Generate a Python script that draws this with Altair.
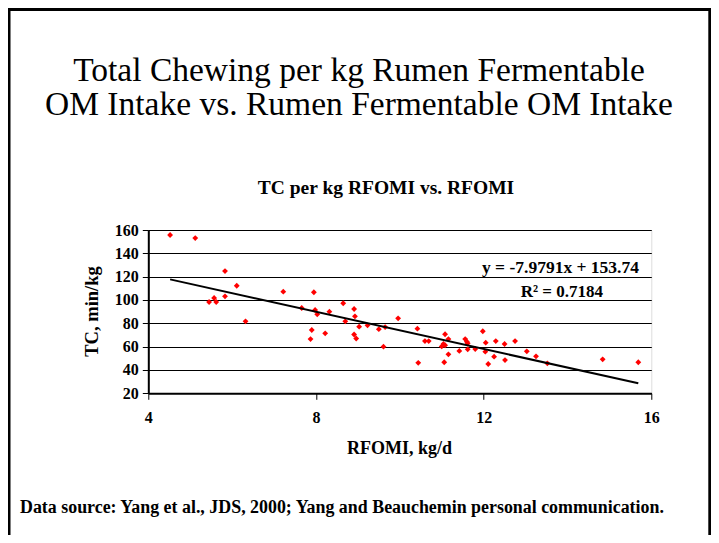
import altair as alt
import pandas as pd

# ---- data ----
rfomi = [4.52, 5.12, 5.83, 6.11, 7.22, 7.95, 5.45, 5.57, 5.62, 5.83,
         7.66, 7.98, 8.03, 8.32, 6.32, 7.90, 8.22, 7.87, 8.65, 8.91,
         8.93, 8.70, 9.03, 9.23, 9.50, 9.65, 8.91, 8.96, 9.61, 9.96,
         10.42, 10.44, 10.60, 10.69, 11.08, 11.16, 11.00, 11.04, 11.08, 11.16,
         11.06, 11.42, 11.56, 11.60, 11.62, 11.62, 11.80, 11.98, 12.05, 12.04,
         12.11, 12.25, 12.29, 12.50, 12.51, 12.75, 13.03, 13.25, 13.52, 14.84,
         15.69]
tc = [155.7, 153.1, 124.8, 112.2, 107.1, 106.6, 98.3, 101.7, 98.3, 103.1,
      93.1, 91.4, 87.7, 90.0, 81.7, 74.3, 71.4, 66.5, 97.2, 92.3,
      86.0, 81.7, 77.1, 78.3, 75.0, 76.8, 70.4, 67.0, 60.0, 84.3,
      75.4, 46.1, 64.8, 64.8, 70.6, 66.5, 60.2, 62.3, 61.2, 53.4,
      46.6, 56.3, 66.5, 64.2, 62.9, 57.7, 58.0, 73.2, 63.4, 55.7,
      45.1, 51.4, 64.8, 62.3, 48.5, 64.8, 56.0, 51.7, 45.7, 49.1,
      46.6]
slope = -7.9791
intercept = 153.74
r2 = 0.7184
x_ticks = [4, 8, 12, 16]
y_ticks = [20, 40, 60, 80, 100, 120, 140, 160]

main_title = ["Total Chewing per kg Rumen Fermentable",
              "OM Intake vs. Rumen Fermentable OM Intake"]
chart_title = "TC per kg RFOMI vs. RFOMI"
x_title = "RFOMI, kg/d"
y_title = "TC, min/kg"
eq_text = f"y = {slope}x + {intercept}"
r2_text = f"R\u00b2 = {r2}"
footer = "Data source: Yang et al., JDS, 2000; Yang and Beauchemin personal communication."

pts = pd.DataFrame({"x": rfomi, "y": tc})
xmin, xmax = min(rfomi), max(rfomi)
trend = pd.DataFrame({"x": [xmin, xmax],
                      "y": [slope * xmin + intercept, slope * xmax + intercept]})
one = pd.DataFrame({"a": [0]})

FONT = "Liberation Serif"
PW, PH = 503, 163.3
PL, PT = 140.3, 222

xs = alt.Scale(domain=[4, 16], nice=False, zero=False)
ys = alt.Scale(domain=[20, 160], nice=False, zero=False)

xaxis = alt.Axis(values=x_ticks, grid=False, title=None, labelFont=FONT,
                 labelFontWeight="bold", labelFontSize=16, labelColor="black",
                 domainColor="black", domainWidth=2, tickColor="black",
                 tickSize=6, tickWidth=1, labelPadding=10, labelFlush=False,
                 labelOverlap=False)
yaxis = alt.Axis(values=y_ticks, grid=True, gridColor="black", gridWidth=1,
                 title=None, labelFont=FONT, labelFontWeight="bold",
                 labelFontSize=16, labelColor="black", domainColor="black",
                 domainWidth=2, tickColor="black", tickSize=6, tickWidth=1,
                 labelPadding=4, labelOverlap=False, labelFlush=False)

points = alt.Chart(pts).mark_point(shape="diamond", filled=True, color="red",
                                    size=34, opacity=1).encode(
    x=alt.X("x:Q", scale=xs, axis=xaxis),
    y=alt.Y("y:Q", scale=ys, axis=yaxis),
)

line = alt.Chart(trend).mark_line(color="black", strokeWidth=2).encode(
    x=alt.X("x:Q", scale=xs, axis=xaxis), y=alt.Y("y:Q", scale=ys, axis=yaxis))


def txt(text, x, y, size, bold=True, align="center", angle=0, baseline="alphabetic"):
    return alt.Chart(one).mark_text(
        text=text, font=FONT, fontSize=size,
        fontWeight="bold" if bold else "normal", align=align,
        baseline=baseline, angle=angle, color="black").encode(
        x=alt.value(x), y=alt.value(y))


texts = [
    txt(main_title[0], 210.7, -149, 33.5, bold=False),
    txt(main_title[1], 210.7, -115, 33.5, bold=False),
    txt(chart_title, 237.7, -36, 19.5),
    txt(eq_text, 490.7, 43, 17.5, align="right"),
    txt(r2_text, 454.7, 67, 17, align="right"),
    txt(x_title, 251.2, 224, 18),
    txt(y_title, -56, 81.5, 18.5, angle=270, baseline="middle"),
    txt(footer, -128.3, 283, 17.9, align="left"),
]

border = alt.Chart(one).mark_rect(fill="transparent", stroke="black",
                                  strokeWidth=3).encode(
    x=alt.value(-139.3), x2=alt.value(561.5), y=alt.value(-220.5), y2=alt.value(420))

chart = alt.layer(points, line, *texts, border).properties(
    width=PW, height=PH,
    autosize=alt.AutoSizeParams(type="none"),
    padding={"left": PL, "top": PT, "right": 703 - PL - PW, "bottom": 527 - PT - PH},
).configure_view(stroke="black", strokeWidth=1).configure(background="white")

chart.save("out.html", embed_options={"renderer": "svg", "actions": False})
